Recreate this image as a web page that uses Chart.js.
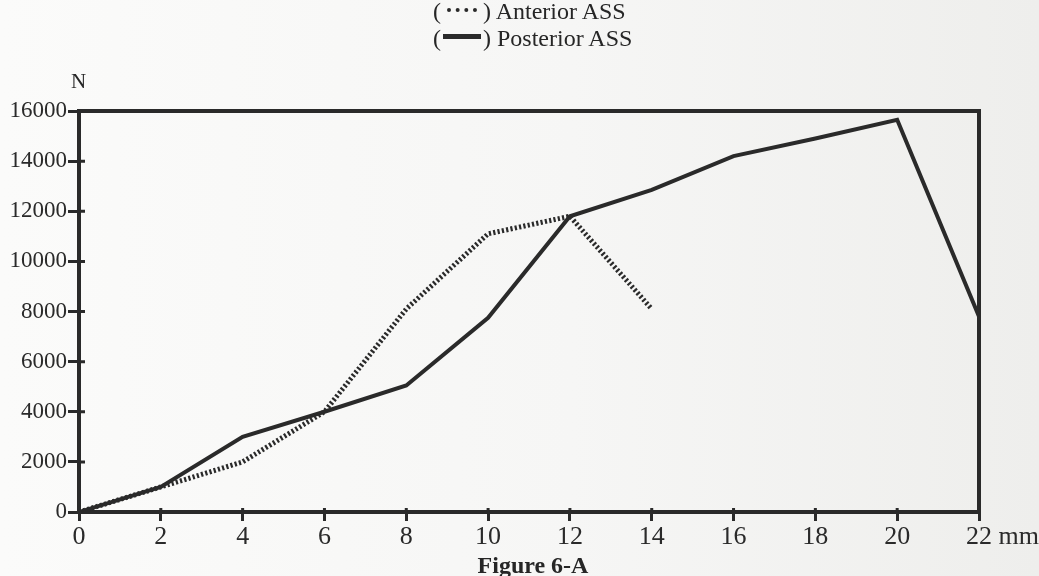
<!DOCTYPE html>
<html>
<head>
<meta charset="utf-8">
<script src="https://cdn.jsdelivr.net/npm/chart.js@4/dist/chart.umd.min.js"></script>
<style>
  html, body { margin: 0; padding: 0; }
  body {
    width: 1039px; height: 576px; overflow: hidden; position: relative;
    background: linear-gradient(90deg, #fbfbfa 0%, #f6f6f5 55%, #eeeeec 100%);
    font-family: "Liberation Serif", "DejaVu Serif", serif; color: #262626;
  }
  #chart { position: absolute; left: 0; top: 0; }
  .legend { position: absolute; left: 433px; top: -2px; font-size: 24px; line-height: 27px; white-space: nowrap; }
  .sym { display: inline-block; width: 38px; height: 0; vertical-align: 7px; margin: 0 2px; }
  .sym.dot { border-top: 4px dotted #2a2a2a; width: 30px; margin: 0 6px; }
  .sym.solid { border-top: 5px solid #2a2a2a; }
  .ylab { position: absolute; left: 71px; top: 69px; font-size: 21px; }
  .caption { position: absolute; left: 0; width: 1066px; text-align: center; top: 552px; font-size: 24px; font-weight: bold; }
</style>
</head>
<body>
<canvas id="chart" width="1039" height="576"></canvas>
<div class="legend">
  <div>(<span class="sym dot"></span>) Anterior ASS</div>
  <div>(<span class="sym solid"></span>) Posterior ASS</div>
</div>
<div class="ylab">N</div>
<div class="caption">Figure 6-A</div>
<script>
// displacement (mm) and force (N)
const anteriorMm = [0, 2, 4, 6, 8, 10, 12, 14];
const anteriorN = [0, 1000, 2000, 4000, 8100, 11100, 11800, 8100];
const posteriorMm = [0, 2, 4, 6, 8, 10, 12, 14, 16, 18, 20, 22];
const posteriorN = [0, 1000, 3000, 4000, 5050, 7750, 11800, 12850, 14200, 14900, 15650, 7800];
const xTicks = [0, 2, 4, 6, 8, 10, 12, 14, 16, 18, 20, 22];
const yTicks = [0, 2000, 4000, 6000, 8000, 10000, 12000, 14000, 16000];
const xUnit = 'mm';

const ink = '#2a2a2a';
const X_TICK_LEN = 9, Y_TICK_LEN = 11;

function toPoints(xs, ys) {
    return xs.map((x, i) => ({ x: x, y: ys[i] }));
}

// frame on top/right, tick stubs inside the plot, and the unit after the last x label
const framePlugin = {
    id: 'frame',
    afterDraw(chart) {
        const { ctx, chartArea: a, scales: { x, y } } = chart;
        ctx.save();
        ctx.strokeStyle = ink;
        ctx.lineWidth = 4;
        ctx.beginPath();
        ctx.moveTo(a.left - 2, a.top);
        ctx.lineTo(a.right, a.top);
        ctx.lineTo(a.right, a.bottom + 2);
        ctx.stroke();

        ctx.lineWidth = 3;
        ctx.beginPath();
        xTicks.slice(1, -1).forEach(v => {
            const px = x.getPixelForValue(v);
            ctx.moveTo(px, a.bottom);
            ctx.lineTo(px, a.bottom - 4);
        });
        yTicks.slice(1, -1).forEach(v => {
            const py = y.getPixelForValue(v);
            ctx.moveTo(a.left, py);
            ctx.lineTo(a.left + 6, py);
        });
        ctx.stroke();

        const f = x.options.ticks.font;
        ctx.font = f.size + 'px ' + f.family;
        ctx.fillStyle = ink;
        ctx.textAlign = 'left';
        ctx.textBaseline = 'middle';
        const last = xTicks[xTicks.length - 1];
        const lx = x.getPixelForValue(last) + ctx.measureText(String(last)).width / 2 + ctx.measureText(' ').width;
        const ly = x.top + X_TICK_LEN + x.options.ticks.padding + f.size * 1.2 / 2;
        ctx.fillText(xUnit, lx, ly);
        ctx.restore();
    }
};

new Chart(document.getElementById('chart'), {
    type: 'line',
    data: {
        datasets: [
            {
                label: 'Anterior ASS',
                data: toPoints(anteriorMm, anteriorN),
                borderColor: ink,
                borderWidth: 5,
                borderDash: [2.2, 2.2],
                borderCapStyle: 'butt',
                pointRadius: 0,
                tension: 0
            },
            {
                label: 'Posterior ASS',
                data: toPoints(posteriorMm, posteriorN),
                borderColor: ink,
                borderWidth: 4,
                borderJoinStyle: 'miter',
                pointRadius: 0,
                tension: 0
            }
        ]
    },
    options: {
        responsive: false,
        animation: false,
        layout: { padding: { left: 0, top: 111, right: 60, bottom: 0 } },
        plugins: {
            legend: { display: false },
            tooltip: { enabled: false }
        },
        scales: {
            x: {
                type: 'linear',
                min: 0,
                max: 22,
                afterFit: s => { s.height = 64; },
                afterBuildTicks: s => { s.ticks = xTicks.map(v => ({ value: v })); },
                grid: { drawOnChartArea: false, tickLength: X_TICK_LEN, tickWidth: 3, tickColor: ink },
                border: { display: true, color: ink, width: 4 },
                ticks: {
                    padding: 1,
                    color: ink,
                    maxRotation: 0,
                    callback: v => String(v),
                    font: { family: '"Liberation Serif", serif', size: 26 }
                }
            },
            y: {
                min: 0,
                max: 16000,
                afterFit: s => { s.width = 79; },
                afterBuildTicks: s => { s.ticks = yTicks.map(v => ({ value: v })); },
                grid: { drawOnChartArea: false, tickLength: Y_TICK_LEN, tickWidth: 3, tickColor: ink },
                border: { display: true, color: ink, width: 4 },
                ticks: {
                    padding: 1,
                    color: ink,
                    callback: v => String(v),
                    font: { family: '"Liberation Serif", serif', size: 23 }
                }
            }
        }
    },
    plugins: [framePlugin]
});
</script>
</body>
</html>
